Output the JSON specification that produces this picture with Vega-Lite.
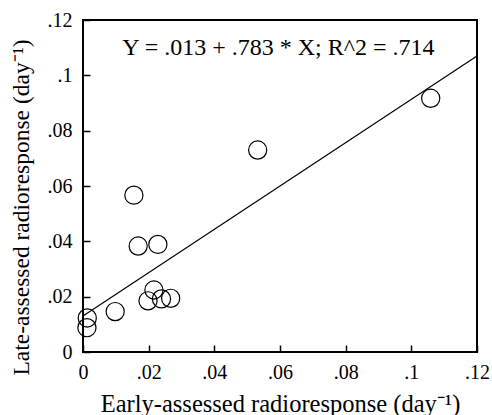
{
  "$schema": "https://vega.github.io/schema/vega-lite/v6.json",
  "width": 394,
  "height": 332,
  "autosize": {"type": "none"},
  "padding": {"left": 83, "top": 20, "right": 15, "bottom": 63},
  "background": "white",
  "config": {
    "view": {"stroke": "black", "strokeWidth": 2},
    "font": "Liberation Serif",
    "axis": {
      "grid": false,
      "domain": false,
      "ticks": true,
      "tickColor": "black",
      "tickWidth": 1.5,
      "tickSize": -7,
      "labelColor": "black",
      "titleColor": "black",
      "labelFont": "Liberation Serif",
      "titleFont": "Liberation Serif",
      "labelFontSize": 20,
      "titleFontWeight": "normal",
      "labelFlush": false,
      "labelOverlap": false,
      "labelBound": false
    }
  },
  "datasets": {
    "pts": [
      {"early": 0.0013, "late": 0.0123},
      {"early": 0.0012, "late": 0.0088},
      {"early": 0.0098, "late": 0.0146},
      {"early": 0.0155, "late": 0.0567},
      {"early": 0.0168, "late": 0.0383},
      {"early": 0.0228, "late": 0.0389},
      {"early": 0.0198, "late": 0.0185},
      {"early": 0.0216, "late": 0.0224},
      {"early": 0.0239, "late": 0.0192},
      {"early": 0.0267, "late": 0.0194},
      {"early": 0.0532, "late": 0.073},
      {"early": 0.1059, "late": 0.0917}
    ],
    "fit": [
      {"early": 0, "late": 0.013},
      {"early": 0.12, "late": 0.10696}
    ],
    "note": [
      {"early": 0.0595, "late": 0.1073, "label": "Y = .013 + .783 * X; R^2 = .714"}
    ]
  },
  "layer": [
    {
      "data": {"name": "pts"},
      "mark": {"type": "point", "shape": "circle", "filled": false, "stroke": "black", "strokeWidth": 1.2, "size": 330, "opacity": 1},
      "encoding": {
        "x": {
          "field": "early", "type": "quantitative",
          "scale": {"domain": [0, 0.12], "nice": false, "zero": false},
          "axis": {
            "orient": "bottom",
            "values": [0, 0.02, 0.04, 0.06, 0.08, 0.1, 0.12],
            "labelExpr": "datum.value == 0 ? '0' : replace(format(datum.value, '~g'), '0.', '.')",
            "labelPadding": 17,
            "title": "Early-assessed radioresponse (day⁻¹)",
            "titleFontSize": 24.5,
            "titleBaseline": "alphabetic",
            "titleY": 59
          }
        },
        "y": {
          "field": "late", "type": "quantitative",
          "scale": {"domain": [0, 0.12], "nice": false, "zero": false},
          "axis": {
            "orient": "left",
            "values": [0, 0.02, 0.04, 0.06, 0.08, 0.1, 0.12],
            "labelExpr": "datum.value == 0 ? '0' : replace(format(datum.value, '~g'), '0.', '.')",
            "labelPadding": 18,
            "title": "Late-assessed radioresponse (day⁻¹)",
            "titleFontSize": 23.5,
            "titleBaseline": "alphabetic",
            "titleAngle": 270,
            "titleX": -55,
            "titleY": 187
          }
        }
      }
    },
    {
      "data": {"name": "fit"},
      "mark": {"type": "line", "color": "black", "strokeWidth": 1.2},
      "encoding": {
        "x": {"field": "early", "type": "quantitative"},
        "y": {"field": "late", "type": "quantitative"}
      }
    },
    {
      "data": {"name": "note"},
      "mark": {"type": "text", "align": "center", "baseline": "alphabetic", "fontSize": 24, "font": "Liberation Serif", "color": "black"},
      "encoding": {
        "x": {"field": "early", "type": "quantitative"},
        "y": {"field": "late", "type": "quantitative"},
        "text": {"field": "label"}
      }
    }
  ]
}
